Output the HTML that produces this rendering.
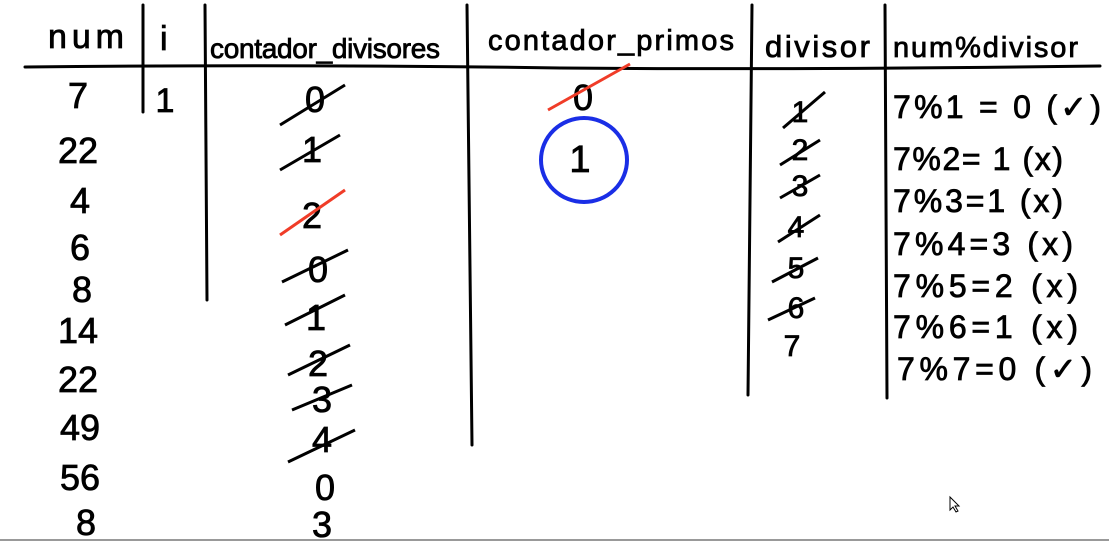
<!DOCTYPE html>
<html><head><meta charset="utf-8"><style>
html,body{margin:0;padding:0;background:#fff;width:1109px;height:542px;overflow:hidden}
svg{display:block}
text{font-family:"Liberation Sans",sans-serif;fill:#000;stroke:#000;stroke-width:0.8}
</style></head><body>
<svg width="1109" height="542" viewBox="0 0 1109 542">
<rect x="0" y="0" width="1109" height="542" fill="#fff"/>
<g stroke="#000" stroke-width="3" fill="none" stroke-linecap="round">
<path d="M25 67 Q300 64 560 68 Q800 70 1100 66"/>
<line x1="143" y1="5" x2="143" y2="112"/>
<line x1="205" y1="5" x2="207" y2="300"/>
<line x1="467" y1="5" x2="472" y2="445"/>
<line x1="752" y1="5" x2="748" y2="395"/>
<line x1="885" y1="5" x2="887" y2="398"/>
</g>
<line x1="0" y1="540" x2="1109" y2="540" stroke="#999" stroke-width="2"/>
<g font-size="34">
<text x="48" y="48" textLength="76">num</text>
<text x="160" y="50">i</text>
<text x="210" y="58" font-size="28" textLength="230">contador_divisores</text>
<text x="488" y="50" font-size="29" textLength="246">contador_primos</text>
<text x="765" y="57" font-size="31" textLength="105">divisor</text>
<text x="893" y="57" font-size="29" textLength="185">num%divisor</text>
</g>
<g font-size="36" text-anchor="middle">
<text x="78" y="108">7</text><text x="78" y="163">22</text><text x="80" y="213">4</text>
<text x="80" y="260">6</text><text x="82" y="302">8</text><text x="78" y="343">14</text>
<text x="78" y="392">22</text><text x="80" y="440">49</text><text x="80" y="490">56</text>
<text x="86" y="535">8</text>
</g>
<text x="165" y="112" font-size="34" text-anchor="middle">1</text>
<g font-size="36" text-anchor="middle">
<text x="315" y="112">0</text><text x="312" y="162">1</text><text x="312" y="228">2</text>
<text x="318" y="282">0</text><text x="316" y="330">1</text><text x="318" y="376">2</text>
<text x="322" y="412">3</text><text x="322" y="452">4</text><text x="325" y="500">0</text>
<text x="322" y="537">3</text>
</g>
<g stroke="#000" stroke-width="3">
<line x1="280" y1="125" x2="345" y2="85"/><line x1="280" y1="170" x2="340" y2="135"/>
<line x1="282" y1="282" x2="348" y2="250"/><line x1="285" y1="325" x2="345" y2="295"/>
<line x1="288" y1="375" x2="350" y2="345"/><line x1="292" y1="410" x2="352" y2="385"/>
<line x1="288" y1="462" x2="355" y2="430"/>
<line x1="280" y1="235" x2="345" y2="190" stroke="#f03c28"/>
</g>
<g>
<text x="583" y="110" font-size="36" text-anchor="middle">0</text>
<line x1="548" y1="110" x2="630" y2="64" stroke="#f03c28" stroke-width="3"/>
<text x="580" y="172" font-size="38" text-anchor="middle">1</text>
<ellipse cx="584" cy="160" rx="43" ry="42" fill="none" stroke="#1a2ee6" stroke-width="4"/>
</g>
<g font-size="30" text-anchor="middle">
<text x="800" y="122">1</text><text x="800" y="160">2</text><text x="800" y="196">3</text>
<text x="796" y="237">4</text><text x="796" y="278">5</text><text x="796" y="318">6</text>
<text x="792" y="356">7</text>
</g>
<g stroke="#000" stroke-width="3">
<line x1="783" y1="128" x2="825" y2="92"/><line x1="780" y1="165" x2="820" y2="140"/>
<line x1="780" y1="198" x2="820" y2="175"/><line x1="778" y1="242" x2="820" y2="215"/>
<line x1="772" y1="282" x2="818" y2="258"/><line x1="768" y1="320" x2="815" y2="298"/>
</g>
<g font-size="32">
<text x="893" y="118" textLength="208">7%1 = 0 (✓)</text>
<text x="893" y="170" textLength="170">7%2= 1  (x)</text>
<text x="893" y="212" textLength="170">7%3=1  (x)</text>
<text x="893" y="255" textLength="180">7%4=3 (x)</text>
<text x="893" y="297" textLength="185">7%5=2 (x)</text>
<text x="893" y="338" textLength="185">7%6=1  (x)</text>
<text x="897" y="380" textLength="195">7%7=0 (✓)</text>
</g>
<path d="M950 497 L950 510 L953 507 L956 512 L958 511 L955 506 L959 506 Z" fill="#fff" stroke="#000" stroke-width="1"/>
</svg>
</body></html>
